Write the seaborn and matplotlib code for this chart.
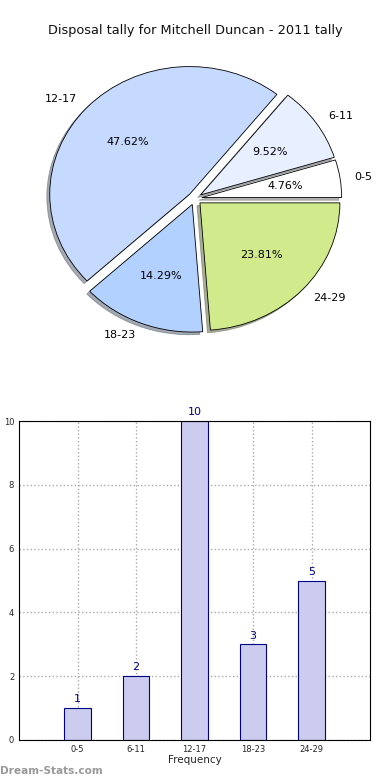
import pandas as pd
import matplotlib
matplotlib.use("Agg")
import matplotlib.pyplot as plt
import seaborn as sns

sns.set_style("white")
plt.rcParams["font.family"] = ["DejaVu Sans"]

categories = ["0-5", "6-11", "12-17", "18-23", "24-29"]
counts = [1, 2, 10, 3, 5]
pie_colors = ["#ffffff", "#e8f0ff", "#c6d9ff", "#b3d1ff", "#d1eb8c"]
explode = [0.05, 0.05, 0.05, 0.05, 0.05]

df = pd.DataFrame({"Frequency": categories, "Count": counts})

fig = plt.figure(figsize=(3.9, 7.8), dpi=100)

# pie chart on top (slightly squashed, like the original)
ax_pie = fig.add_axes([0.051, 0.541, 0.897, 0.409])
wedges, texts, autotexts = ax_pie.pie(
    df["Count"], labels=df["Frequency"], colors=pie_colors, explode=explode,
    autopct="%.2f%%", shadow={"ox": -0.015, "oy": -0.015, "shade": 0.6},
    startangle=0, counterclock=True,
    wedgeprops={"edgecolor": "black", "linewidth": 0.6},
    textprops={"fontsize": 8, "color": "black"},
)
ax_pie.set_aspect("auto")
fig.text(0.5, 0.961, "Disposal tally for Mitchell Duncan - 2011 tally",
         ha="center", va="center", fontsize=9.3, color="#111111")

# bar chart below
ax = fig.add_axes([0.049, 0.0513, 0.9, 0.4087])
sns.barplot(data=df, x="Frequency", y="Count", ax=ax, width=0.45,
            color="#ccccee", edgecolor="#00008b", linewidth=0.8,
            saturation=1)
ax.set_xlim(-1, 5)
ax.set_ylim(0, 10)
ax.set_yticks([0, 2, 4, 6, 8, 10])
ax.grid(True, linestyle=":", color="#aaaaaa", linewidth=1)
ax.set_axisbelow(True)
for s in ax.spines.values():
    s.set_color("black")
    s.set_linewidth(0.8)
ax.tick_params(axis="both", labelsize=6, length=3, direction="in", color="#555555")
ax.set_xlabel("Frequency", fontsize=7.5, labelpad=1)
ax.set_ylabel("Disposal tally", fontsize=7.5)
ax.yaxis.set_label_coords(-0.075, 0.5)
for i, v in enumerate(counts):
    ax.text(i, v + 0.12, str(v), ha="center", va="bottom", fontsize=8,
            color="#00008b")

fig.text(0.0, 0.005, "Dream-Stats.com", fontsize=7.6, color="#999999",
         fontweight="bold", ha="left", va="bottom")

fig.savefig("out.png", dpi=100)
